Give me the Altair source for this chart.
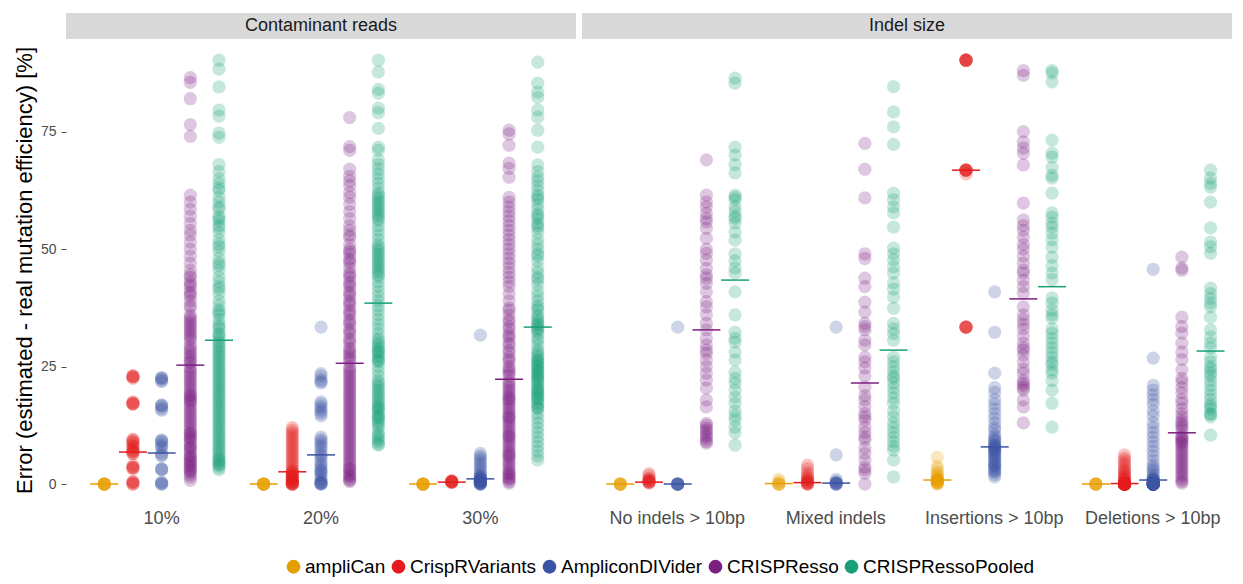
import altair as alt
import pandas as pd

TOOLS = ["ampliCan", "CrispRVariants", "AmpliconDIVider", "CRISPResso", "CRISPRessoPooled"]
COLORS = ["#E69F00", "#E41A1C", "#3A53A4", "#7B1F82", "#17A077"]

CONTAM_CATS = ["10%", "20%", "30%"]
INDEL_CATS = ["No indels > 10bp", "Mixed indels", "Insertions > 10bp", "Deletions > 10bp"]

# ---- Contaminant reads : 10% ----
c10_amplican = [0, 0, 0, 0, 0, 0, 0, 0]
c10_crisprvariants = [23, 23, 22.8, 22.8, 22.5, 17.5, 17.2, 17.2, 17, 17, 9.5, 9.4, 9, 9, 8.5, 8, 8, 7.5, 7, 7,
                      6.8, 6.5, 6.5, 4, 3.6, 3.5, 3.5, 3.2, 0.5, 0.4, 0.3, 0, 0]
c10_amplicondivider = [22.6, 22.6, 22.4, 22, 21.8, 16.8, 16.8, 16.5, 16, 15.7, 9.4, 9.2, 9, 8.5, 8, 7.7, 6.6,
                       6.2, 6, 3.2, 3.2, 3, 0.4, 0.2, 0, 0]
c10_crispresso = [86.5, 85.5, 82, 76.5, 74, 61.5, 60, 58.5, 57, 55.5, 54, 53, 51.5, 50, 48.5, 47, 45.5, 44.5,
                  43, 42, 41, 40, 39, 37.5, 36, 35, 34, 33, 32, 31, 30.5, 29.5, 28.5, 28, 27, 26.5, 25.8,
                  25, 24, 23, 22.5, 21.5, 20.5, 20, 19, 18.5, 17.5, 17, 16, 15, 14.5, 13.5, 12.5, 12, 11, 10,
                  9.5, 9, 8, 7.5, 7, 6, 5.5, 5, 4, 3.5, 3, 2.5, 2, 1.5, 0.8, 18, 10.5, 4.5,
                  44, 42.5, 40.5, 38, 35.5, 34.5, 33.5, 32.5, 31.5, 29, 27.5, 26, 24.5, 23.5, 22, 21, 19.5,
                  18.8, 17.8, 16.5, 15.5, 14, 13, 11.5, 10.8, 9.8, 8.5, 7.8, 6.5, 5.8, 4.8, 3.8, 2.8]
c10_crispressopooled = [90.2, 88.3, 84.5, 79.6, 78.3, 74.7, 73.8, 68, 66.5, 65, 64, 62.5, 61, 60, 58.5, 57, 56,
                        55, 53.5, 52, 51, 49.5, 48, 47, 45.5, 44, 43, 42, 40.5, 39, 38, 37, 36, 35, 34, 33, 32,
                        31.2, 30, 29, 28, 27.5, 26.5, 25.5, 24.5, 24, 23, 22, 21, 20.5, 19.5, 18.5, 18, 17, 16,
                        15, 14.5, 13.5, 12.5, 12, 11, 10.5, 9.5, 9, 8, 7.5, 7, 6, 5.5, 5, 4.5, 4, 3.5, 3, 20,
                        15.5, 63, 59, 56.5, 54.5, 50.5, 46.5, 41.5, 36.5, 33.5, 31.8, 30.5, 29.5, 28.5, 27, 26,
                        25, 23.5, 22.5, 21.5, 19, 17.5, 16.5, 14, 13, 11.5, 10, 8.5, 6.5, 5.2, 4.2]

# ---- Contaminant reads : 20% ----
c20_amplican = [0, 0, 0, 0, 0, 0, 0, 0]
c20_crisprvariants = [12, 11.5, 11, 10.5, 10, 9.5, 9, 8.5, 8, 7.5, 7, 6.5, 6, 5.5, 5, 4.5, 4, 3.5, 3, 2.8, 2.5,
                      2.2, 2, 1.8, 1.5, 1.2, 1, 0.8, 0.5, 0.3, 0, 0, 0, 0, 0.2, 0.6, 1.4, 2.4, 0.1, 1.6]
c20_amplicondivider = [33.4, 23.5, 23, 22.2, 21.8, 21.5, 17.5, 17, 16.5, 16, 15.5, 15, 14.5, 10, 9.5, 9, 8.5, 8,
                       7.5, 6.8, 6.2, 5.8, 5.2, 4.5, 3, 2.8, 2.5, 1, 0.5, 0.2, 0, 0, 0.1, 0.3, 1.5, 2, 3.5, 4]
c20_crispresso = [78, 71.8, 71, 67, 65.5, 64.5, 63.5, 62, 61, 59.5, 58, 56.5, 55, 54, 52.5, 51, 50, 49, 48, 47,
                  46, 45, 44, 43, 42, 41, 40, 39, 38, 37, 36, 35, 34, 33, 32, 31, 30, 29, 28, 27, 26,
                  25, 24.5, 23.5, 22.5, 22, 21, 20, 19.5, 18.5, 17.5, 17, 16, 15, 14.5, 13.5, 12.5, 12, 11, 10,
                  9.5, 8.5, 8, 7, 6.5, 5.5, 5, 4, 3.5, 2.5, 2, 1, 0.5, 18, 13, 7.5, 3, 1.5, 10.5, 15.5, 20.5,
                  23, 53, 49.5, 47.5, 44.5, 42.5, 40.5, 38.5, 36.5, 34.5, 32.5, 30.5, 28.5, 27.5, 26.5, 24,
                  21.5, 19, 16.5, 14, 11.5, 9, 6, 4.5, 3.2, 1.8, 0.8]
c20_crispressopooled = [90.2, 87.7, 84, 83.2, 80, 79, 75.7, 71.7, 71, 69, 68, 67, 66, 65, 64, 63, 62, 61, 60, 59,
                        58, 57, 56, 55, 54, 53, 52, 51, 50, 49, 48, 47, 46.5, 45.5, 45, 44, 43, 42, 41, 40, 39,
                        38, 37, 36, 35, 34, 33, 32, 31, 30, 29, 28.5, 28, 27, 26.5, 26, 25, 24, 23, 22, 21,
                        20.5, 20, 19, 18.5, 18, 17, 16.5, 16, 15, 14.5, 14, 13, 12.5, 12, 11, 10.5, 10, 9.5, 9,
                        8.5, 8.3, 61.5, 60.5, 59.5, 58.5, 57.5, 56.5, 50.5, 49.5, 48.5, 47.5, 46, 44.5, 30.5,
                        29.5, 28.2, 27.5, 26.2, 21.5, 19.5, 17.5, 16.2, 15.5, 14.2, 13.5]

# ---- Contaminant reads : 30% ----
c30_amplican = [0, 0, 0, 0, 0, 0, 0, 0]
c30_crisprvariants = [0.5, 0.5, 0.4, 0.6, 0.3, 0.5, 0.7, 0.4]
c30_amplicondivider = [31.7, 6.5, 6, 5.5, 5, 4.5, 4, 3.5, 3, 2.5, 2, 1.8, 1.5, 1.3, 1.2, 1, 0.8, 0.6, 0.5, 0.3,
                       0.2, 0, 0, 0.1, 0.4, 0.7, 0.9, 1.1, 0, 0.2, 0.5]
c30_crispresso = [75.3, 74.5, 72.1, 68.3, 67.2, 65.3, 61, 60, 59, 58, 57, 56, 55, 54, 53, 52, 51, 50, 49, 48,
                  47, 46, 45, 44, 43, 42, 40.5, 39, 37.5, 36, 35, 33.5, 32, 31, 30, 28.5, 27, 26, 24.5, 23,
                  22, 21, 20.5, 19.5, 19, 18, 17.5, 17, 16, 15.5, 15, 14, 13.5, 13, 12, 11.5, 11, 10, 9.5, 9,
                  8, 7.5, 7, 6, 5.5, 5, 4, 3.5, 3, 2, 1.5, 1, 0.5, 0.2, 18.5, 14.5, 10.5, 6.5, 2.5, 21.5,
                  37, 34.5, 33, 31.5, 29.5, 28, 26.5, 25, 24, 23.5, 20, 18.2, 16.5, 14.2, 12.5, 10.2, 8.5,
                  6.2, 4.5, 2.2, 1.2]
c30_crispressopooled = [89.8, 85.3, 83.4, 82.3, 79.6, 78.1, 75.3, 71.7, 67.9, 66.5, 65.3, 64.5, 63.5, 62.5, 61.5,
                        60.5, 59.5, 58.5, 57.5, 56.5, 55.5, 54.5, 53.5, 52, 51, 50, 49, 47.5, 46, 45, 44, 42.5,
                        41, 40, 39, 38, 37, 36, 35, 34,
                        33, 32.5, 32, 31, 30.5, 29.5, 28.5, 28, 27, 26.5, 26, 25, 24.5, 24, 23, 22.5, 22, 21,
                        20.5, 20, 19, 18.5, 18, 17, 16.5, 16, 15, 14, 13, 12, 11, 10, 9, 8, 7, 6, 5.1, 25.5,
                        19.5, 23.5, 35.5, 34.5, 33.8, 33.2, 27.5, 26.2, 25.2, 24.2, 23.2, 22.2, 21.5, 20.2,
                        19.2, 18.2, 17.5, 16.2, 48.5, 43.5, 37.5, 57, 55, 61]

# ---- Indel size : No indels > 10bp ----
noind_amplican = [0, 0, 0, 0, 0, 0]
noind_crisprvariants = [2.2, 1.8, 1.2, 1, 0.8, 0.6, 0.5, 0.4, 0.3, 0.2]
noind_amplicondivider = [33.4, 0, 0, 0, 0, 0, 0, 0]
noind_crispresso = [69, 61.5, 60, 59, 57.6, 56.5, 55.8, 54.4, 52.3, 50, 49.1, 47.7, 45.9, 44.5, 43.8, 42.7, 40.9,
                    38.8, 37.7, 36, 34.2, 32.8, 31, 29.6, 28.5, 27.8, 26.4, 25, 23.6, 22.1, 20.4, 17.9, 16.4,
                    12.9, 12.5, 11.9, 11.5, 11, 10.4, 10, 9.5, 9, 8.7]
noind_crispressopooled = [86.4, 85.3, 71.7, 70, 68, 66.2, 61.5, 61, 60.5, 59, 58, 57, 56.5, 55.5, 53.6, 51.9, 49,
                          47.5, 46, 44.9, 40.9, 36, 32.3, 31, 30.2, 28.1, 26.4, 23.8, 22.5, 21.5, 20, 18.5,
                          17.2, 15.5, 14.5, 13.6, 12.1, 10.9, 8.3]

# ---- Indel size : Mixed indels ----
mixed_amplican = [0, 0, 0, 0, 0.5, 1]
mixed_crisprvariants = [4, 3.3, 2.5, 2, 1.5, 1.2, 1, 0.8, 0.5, 0.3, 0.2, 0, 0, 0.1]
mixed_amplicondivider = [33.4, 6.2, 1, 0.5, 0.3, 0.2, 0.1, 0, 0, 0]
mixed_crispresso = [72.5, 67, 60.9, 49, 48, 43.8, 42, 38.7, 36.6, 34.2, 33.5, 32.8, 30.6, 29.6, 27, 26, 24.7, 23,
                    20.6, 18.8, 17.9, 16.5, 15, 14.3, 13.6, 12.1, 11, 10, 9.4, 7.7, 6.5, 5.1, 3.6, 3, 2.3, 0]
mixed_crispressopooled = [84.6, 79.2, 76, 72.3, 61.9, 60.5, 59, 57.7, 54.7, 50.2, 49, 47.7, 46.2, 44.9, 42.8,
                          41.5, 39.8, 37.4, 34.2, 33, 32, 30.6, 27, 26, 25, 24, 23, 22.5, 21.5, 20.5, 19.4,
                          18.3, 17.2, 15.5, 14.3, 13, 12, 11, 10, 9, 8, 7.2, 5.1, 1.5]

# ---- Indel size : Insertions > 10bp ----
ins_amplican = [5.7, 3.8, 3.2, 2.6, 2.2, 1.8, 1.5, 1.2, 1, 0.9, 0.85, 0.8, 0.7, 0.6, 0.5, 0.4, 0.3, 0.2, 0.1, 0]
ins_crisprvariants = [90.2, 90.2, 90.2, 90.2, 90.2, 90.2, 66.8, 66.8, 66.8, 66.8, 66.8, 66.8, 66.0,
                      33.4, 33.4, 33.4, 33.4, 33.4]
ins_amplicondivider = [40.9, 32.3, 23.6, 20.5, 19.5, 18, 17, 16, 15, 14, 13, 12, 11.5, 10.5, 10, 9.5, 9.2, 9,
                       8.5, 8.2, 8, 7.9, 7.7, 7.5, 7.2, 7, 6.8, 6.5, 6.2, 6, 5.5, 5.2, 5, 4.5, 4.2, 4, 3.8,
                       3.5, 3, 2.8, 2.5, 2, 1.5]
ins_crispresso = [88, 87, 75, 72.8, 71.5, 70.4, 67.9, 59.8, 56.2, 55, 54, 52.5, 51, 50, 48.5, 47, 45.5, 44.9,
                  43.4, 42, 40.6, 37.7, 36, 35, 34, 33, 31.5, 30, 29, 28.5, 27.5, 26, 24.5, 23.6, 22.1, 21.5,
                  21, 20.5, 20, 17.9, 16.4, 13]
ins_crispressopooled = [88, 87.5, 85.6, 73.2, 70.4, 69.6, 67.4, 65.7, 65.1, 61.9, 57.7, 56.8, 55.5, 54.7, 53.4,
                        52, 50.4, 48.3, 46.5, 44.9, 43.5, 39.6, 38.5, 37, 36, 35.3, 33, 32.1, 31, 30, 29, 28,
                        27, 26, 25.5, 24.3, 23.6, 22, 20, 17.2, 12.1]

# ---- Indel size : Deletions > 10bp ----
del_amplican = [0, 0, 0, 0, 0, 0]
del_crisprvariants = [6.2, 5.5, 5, 4.5, 4, 3.5, 3, 2.7, 2.4, 2, 1.7, 1.4, 1.2, 1, 0.8, 0.5, 0.3, 0.1,
                      0, 0, 0, 0, 0, 0, 0, 0, 0, 0, 0, 0, 0, 0, 0, 0, 0, 0, 0]
del_amplicondivider = [45.7, 26.8, 21, 20, 19, 18, 17, 15.5, 14.5, 13, 12, 11, 10, 9, 8, 7, 6, 5, 4, 3.5, 3,
                       2.5, 2, 1.5, 1.2, 1, 0.9, 0.85, 0.8, 0.6, 0.5, 0.4, 0.3, 0.2, 0.1,
                       0, 0, 0, 0, 0, 0, 0, 0, 0, 0, 0, 0, 0, 0, 0, 0, 0, 0, 0, 0]
del_crispresso = [48.3, 46, 45.5, 35.5, 33.5, 32.1, 30, 28.1, 26.5, 24.3, 22.5, 21.7, 20.5, 19.4, 18, 17.2, 16,
                  15, 14.3, 13.5, 13, 12.5, 12, 11.5, 10.5, 10, 9.8, 9.5, 9, 8.8, 8.5, 8, 7.5, 7, 6.5, 6, 5.5,
                  5, 4.5, 4, 3.5, 3, 2.5, 2, 1.5, 1, 0.5, 0.2]
del_crispressopooled = [66.8, 65.1, 64, 63.2, 60, 54.5, 51.5, 50.5, 49.1, 41.7, 40.5, 39.5, 38.5, 37.7, 35.5,
                        32.8, 31.3, 30, 29, 27, 26, 25, 24.5, 23.6, 23, 22, 21, 20, 19, 18, 17, 16.5, 16, 15,
                        14.8, 14.3, 10.4]

# ---- medians (short horizontal lines) ----
MEDIANS = {
    "10%": [0, 6.8, 6.6, 25.3, 30.6],
    "20%": [0, 2.6, 6.2, 25.7, 38.5],
    "30%": [0, 0.4, 1.1, 22.3, 33.4],
    "No indels > 10bp": [0, 0.4, 0, 32.8, 43.4],
    "Mixed indels": [0.1, 0.3, 0.2, 21.5, 28.5],
    "Insertions > 10bp": [0.85, 66.8, 7.9, 39.4, 42],
    "Deletions > 10bp": [0, 0.1, 0.85, 10.9, 28.3],
}

SERIES = {
    "10%": [c10_amplican, c10_crisprvariants, c10_amplicondivider, c10_crispresso, c10_crispressopooled],
    "20%": [c20_amplican, c20_crisprvariants, c20_amplicondivider, c20_crispresso, c20_crispressopooled],
    "30%": [c30_amplican, c30_crisprvariants, c30_amplicondivider, c30_crispresso, c30_crispressopooled],
    "No indels > 10bp": [noind_amplican, noind_crisprvariants, noind_amplicondivider, noind_crispresso,
                         noind_crispressopooled],
    "Mixed indels": [mixed_amplican, mixed_crisprvariants, mixed_amplicondivider, mixed_crispresso,
                     mixed_crispressopooled],
    "Insertions > 10bp": [ins_amplican, ins_crisprvariants, ins_amplicondivider, ins_crispresso,
                          ins_crispressopooled],
    "Deletions > 10bp": [del_amplican, del_crisprvariants, del_amplicondivider, del_crispresso,
                         del_crispressopooled],
}

pt_rows, med_rows = [], []
for cat, lists in SERIES.items():
    for tool, vals in zip(TOOLS, lists):
        for v in vals:
            pt_rows.append({"category": cat, "tool": tool, "value": v})
    for tool, m in zip(TOOLS, MEDIANS[cat]):
        med_rows.append({"category": cat, "tool": tool, "median": m})
pts = pd.DataFrame(pt_rows)
meds = pd.DataFrame(med_rows)

FONT = "Liberation Sans"
Y_DOMAIN = [-3.4, 94.5]
HEIGHT = 460

color = alt.Color(
    "tool:N",
    scale=alt.Scale(domain=TOOLS, range=COLORS),
    legend=alt.Legend(title=None, orient="none", legendX=218, legendY=517, direction="horizontal",
                      symbolType="circle", symbolSize=190, symbolOpacity=1, symbolStrokeWidth=0,
                      labelFontSize=19, labelColor="#000000", labelFont=FONT, labelLimit=400,
                      columnPadding=3, labelOffset=2),
)


def panel(title, cats, width, pad_outer, align, show_y):
    x = alt.X("category:N", sort=cats,
              scale=alt.Scale(domain=cats, paddingInner=0, paddingOuter=pad_outer, align=align),
              axis=alt.Axis(title=None, labelAngle=0, labelFontSize=18, labelColor="#4d4d4d", labelFont=FONT,
                            ticks=False, tickSize=0, domain=False, grid=False, labelPadding=9))
    xo = alt.XOffset("tool:N", sort=TOOLS,
                     scale=alt.Scale(domain=TOOLS, paddingInner=0, paddingOuter=0.278))
    if show_y:
        yaxis = alt.Axis(values=[0, 25, 50, 75], title="Error (estimated - real mutation efficiency) [%]",
                         titleFontSize=22, titleFontWeight="normal", titleColor="#000000", titleFont=FONT,
                         labelFontSize=14, labelColor="#4d4d4d", labelFont=FONT, tickSize=5,
                         tickColor="#4d4d4d", domain=False, grid=False, labelPadding=5, titlePadding=4)
    else:
        yaxis = None
    sub = pts[pts["category"].isin(cats)]
    subm = meds[meds["category"].isin(cats)]
    points = alt.Chart(sub).mark_circle(size=175, opacity=0.25, strokeWidth=0).encode(
        x=x, xOffset=xo,
        y=alt.Y("value:Q", scale=alt.Scale(domain=Y_DOMAIN, nice=False, zero=False), axis=yaxis),
        color=color,
    )
    med = alt.Chart(subm).mark_tick(size=28, thickness=1.5, opacity=1).encode(
        x=x, xOffset=xo,
        y=alt.Y("median:Q", scale=alt.Scale(domain=Y_DOMAIN, nice=False, zero=False), axis=yaxis),
        color=color,
    )
    hdr = pd.DataFrame({"label": [title]})
    strip = alt.Chart(hdr).mark_rect(color="#d9d9d9").encode(
        x=alt.value(0), x2=alt.value(width), y=alt.value(-27), y2=alt.value(-1))
    strip_text = alt.Chart(hdr).mark_text(fontSize=18, color="#1a1a1a", font=FONT, baseline="middle").encode(
        x=alt.value(width / 2), y=alt.value(-14), text="label:N")
    return alt.layer(strip, strip_text, points, med).properties(width=width, height=HEIGHT)


left = panel("Contaminant reads", CONTAM_CATS, 510, 0.1, 0.5, True)
right = panel("Indel size", INDEL_CATS, 650, 0.0505, 1.0, False)

chart = alt.hconcat(left, right, spacing=6).resolve_scale(color="shared").properties(
    padding={"left": 5, "top": 5, "right": 0, "bottom": 0}
).configure(font=FONT).configure_view(strokeWidth=0)

chart.save("out.html", embed_options={"renderer": "svg", "actions": False})
